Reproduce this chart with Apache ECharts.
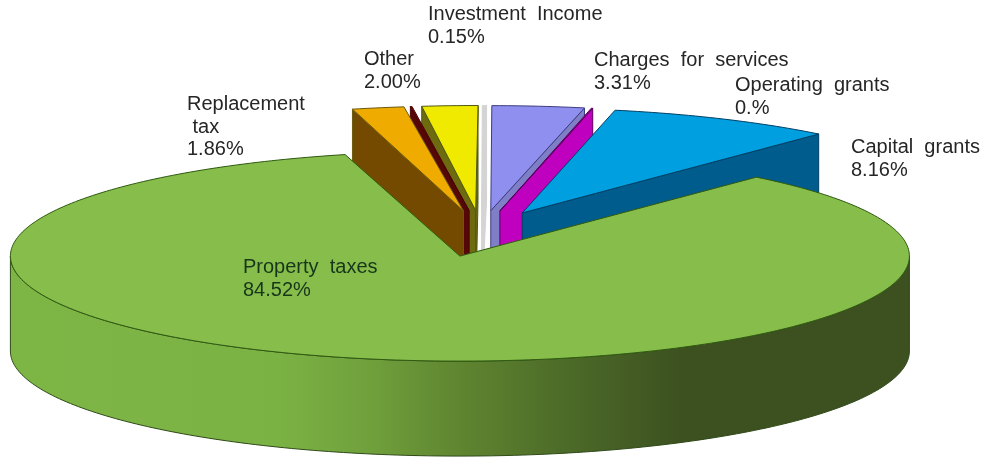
<!DOCTYPE html>
<html><head><meta charset="utf-8">
<style>html,body{margin:0;padding:0;background:#fff}#c{width:985px;height:462px}</style>
<script src="https://cdn.jsdelivr.net/npm/echarts@6/dist/echarts.min.js"></script>
</head><body><div id="c"></div>
<script>
// Data, clockwise from the left edge of the gap in the large slice
var categories = ['Replacement tax', 'Unlabelled', 'Other', 'Investment Income', 'Charges for services', 'Operating grants', 'Capital grants', 'Property taxes'];
var values = [1.86, 0.06, 2.00, 0.15, 3.31, 0.05, 8.16, 84.52];

// Styles
var topColors  = ['#f0ab00', '#7d0505', '#f0ea00', '#d4d4d4', '#8f8ff0', '#c800c8', '#009fe0', '#86bd4b'];
var wallColors = ['#734a00', '#560808', '#6e6a10', '#d4d4d4', '#7f7fc8', '#bf00bf', '#005c8c', '#86bd4b'];
var edgeColors = ['#6b5a10', '#4a0505', '#4f5a10', '#d4d4d4', '#3c3c80', '#5a005a', '#003f66', '#2f5a10'];
var edgeWidths = [1, 1, 1, 1, 1, 1, 1, 1];
var drawOrder  = [6, 5, 4, 0, 1, 2, 3, 7];

// Projection
var RX = 449.5, RY = 105, DEPTH = 95, EXPLODE_X = 0.205, EXPLODE_Y = 0.22;
var CX = 481, CY = 233.6, START_DEG = 104.8;
var layoutNudgeDeg = [-0.5, -0.6, -1.0, -0.8, -0.3, 0, 0, 0];

// Labels
var labelTexts = [
  'Investment  Income\n0.15%', 'Charges  for  services\n3.31%', 'Other\n2.00%',
  'Operating  grants\n0.%', 'Capital  grants\n8.16%', 'Replacement\n tax\n1.86%', 'Property  taxes\n84.52%'
];
var labelLeft = [428, 594, 364, 735, 851, 187, 243];
var labelTop  = [3, 49, 48, 74, 136, 93, 256];
var labelFill = ['#262626', '#262626', '#262626', '#262626', '#262626', '#262626', '#17361a'];

var total = values.reduce(function (a, b) { return a + b; }, 0);
var spans = [], cursor = START_DEG;
values.forEach(function (v, i) {
  var s = v / total * 360;
  spans.push({ from: cursor + layoutNudgeDeg[i], to: cursor - s + layoutNudgeDeg[i] });
  cursor -= s;
});
function rad(d) { return d * Math.PI / 180; }
function pt(o, d, dz) { return [o[0] + RX * Math.cos(rad(d)), o[1] - RY * Math.sin(rad(d)) + (dz || 0)]; }

function renderItem(params, api) {
  var i = params.dataIndex, sp = spans[i], mid = (sp.from + sp.to) / 2;
  var apex = [CX + EXPLODE_X * RX * Math.cos(rad(mid)), CY - EXPLODE_Y * RY * Math.sin(rad(mid))];
  var order = drawOrder[i] * 10, kids = [];
  var st = { stroke: edgeColors[i], lineWidth: edgeWidths[i], lineJoin: 'round' };

  function wall(edgeDeg) {
    var p = pt(apex, edgeDeg);
    kids.push({ type: 'polygon', z2: order,
      shape: { points: [apex, p, [p[0], p[1] + DEPTH], [apex[0], apex[1] + DEPTH]] },
      style: Object.assign({ fill: wallColors[i] }, st) });
  }
  if (sp.from > 90 && sp.from < 180) wall(sp.from);
  if (sp.to < 90 && sp.to > 0) wall(sp.to);

  // outer rim on the part that faces the viewer
  var lo = Math.max(sp.to, -180), hi = Math.min(sp.from, 0);
  if (hi > lo) {
    var up = [], down = [];
    for (var d = hi; d >= lo; d -= 1) { up.push(pt(apex, d)); down.unshift(pt(apex, d, DEPTH)); }
    kids.push({ type: 'polygon', z2: order + 1,
      shape: { points: up.concat(down) },
      style: {
        fill: new echarts.graphic.LinearGradient(0, 0, 1, 0, [
          { offset: 0, color: '#7eb646' }, { offset: 0.30, color: '#7bb244' },
          { offset: 0.40, color: '#70a03c' }, { offset: 0.50, color: '#5f8530' },
          { offset: 0.62, color: '#4c6a28' }, { offset: 0.75, color: '#3c5020' }, { offset: 1, color: '#3c5020' }
        ]),
        stroke: '#2f4a18', lineWidth: 1
      } });
  }

  // top face
  var pts = [apex], n = Math.max(2, Math.ceil(sp.from - sp.to));
  for (var k = 0; k <= n; k++) pts.push(pt(apex, sp.from - (sp.from - sp.to) * k / n));
  kids.push({ type: 'polygon', z2: order + 2, shape: { points: pts },
    style: Object.assign({ fill: topColors[i] }, st) });
  return { type: 'group', children: kids };
}

var chart = echarts.init(document.getElementById('c'), null, { renderer: 'canvas' });
chart.setOption({
  animation: false,
  backgroundColor: '#ffffff',
  series: [{
    type: 'custom', coordinateSystem: 'none', silent: true,
    data: values.map(function (v, i) { return { name: categories[i], value: [v] }; }),
    renderItem: renderItem
  }],
  graphic: { elements: labelTexts.map(function (t, i) {
    return { type: 'text', left: labelLeft[i], top: labelTop[i] + 0.5, z: 100, silent: true,
      style: { text: t, fill: labelFill[i], font: '20px "Liberation Sans", Arial, sans-serif', lineHeight: 22.5 } };
  }) }
});
</script></body></html>
